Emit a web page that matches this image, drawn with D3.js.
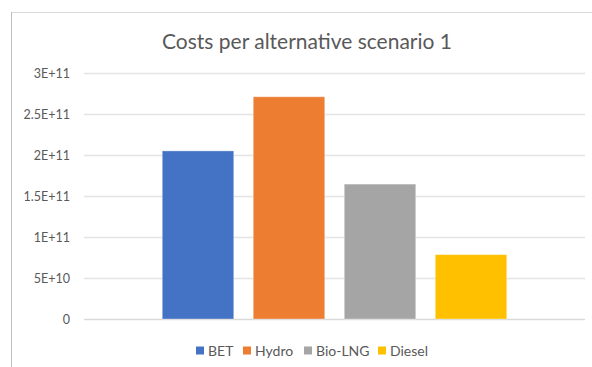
<!DOCTYPE html>
<html>
<head>
<meta charset="utf-8">
<script src="https://cdn.jsdelivr.net/npm/d3@7"></script>
<style>
  html, body { margin: 0; padding: 0; background: #fff; }
  svg { display: block; font-family: Lato, "Open Sans", "Liberation Sans", sans-serif; }
</style>
</head>
<body>
<svg id="chart" width="592" height="367"></svg>
<script>
// Chart data
const title = "Costs per alternative scenario 1";
const series = ["BET", "Hydro", "Bio-LNG", "Diesel"];
const values = [2.05e11, 2.71e11, 1.645e11, 0.785e11];
const colors = ["#4472C4", "#ED7D31", "#A5A5A5", "#FFC000"];
const yTicks = [0, 5e10, 1e11, 1.5e11, 2e11, 2.5e11, 3e11];
const yTickLabels = ["0", "5E+10", "1E+11", "1.5E+11", "2E+11", "2.5E+11", "3E+11"];

const svg = d3.select("#chart");
const W = 592, H = 367;

// Chart frame (top and left edges)
svg.append("line").attr("x1", 11.5).attr("x2", W).attr("y1", 12.5).attr("y2", 12.5)
  .attr("stroke", "#d9d9d9").attr("stroke-width", 1);
svg.append("line").attr("x1", 11.5).attr("x2", 11.5).attr("y1", 12).attr("y2", H)
  .attr("stroke", "#bfbfbf").attr("stroke-width", 1);

const plot = { left: 84, right: 585, top: 73, bottom: 319 };

const y = d3.scaleLinear().domain([0, 3e11]).range([plot.bottom, plot.top]);

// Gridlines
svg.append("g").selectAll("line").data(yTicks).join("line")
  .attr("x1", plot.left).attr("x2", plot.right)
  .attr("y1", d => Math.round(y(d)) + 0.5).attr("y2", d => Math.round(y(d)) + 0.5)
  .attr("stroke", d => d === 0 ? "#d9d9d9" : "#e4e4e4").attr("stroke-width", 1.3);

// Y-axis labels
const yAxis = d3.axisLeft(y).tickValues(yTicks)
  .tickFormat((d, i) => yTickLabels[i]).tickSize(0).tickPadding(0);
const gy = svg.append("g").attr("transform", `translate(${70},0)`).call(yAxis);
gy.select(".domain").remove();
gy.selectAll("text").attr("fill", "#595959").style("font-size", "12.5px")
  .style("font-family", "Lato, 'Open Sans', sans-serif");

// Bars: one category, four series centred in the plot
const cx = (plot.left + plot.right) / 2;
const step = 91, barW = 71.5;
const x = d3.scaleBand().domain(series)
  .range([cx - step * 2, cx + step * 2]).paddingInner((step - barW) / step).paddingOuter((step - barW) / step / 2);

svg.append("g").selectAll("rect").data(series).join("rect")
  .attr("x", d => x(d))
  .attr("width", x.bandwidth())
  .attr("y", (d, i) => y(values[i]))
  .attr("height", (d, i) => y(0) - y(values[i]))
  .attr("fill", (d, i) => colors[i])
  .attr("stroke", "#ffffff").attr("stroke-opacity", 0.35).attr("stroke-width", 1);

// Title
const t = svg.append("text").attr("x", 307).attr("y", 48.5)
  .attr("text-anchor", "middle").attr("fill", "#595959")
  .style("font-size", "20px").text(title);
const tw = t.node().getComputedTextLength();
t.style("font-size", (20 * 290 / tw).toFixed(2) + "px");

// Legend
const legendX = [196, 243, 304, 378];
const lg = svg.append("g").selectAll("g").data(series).join("g")
  .attr("transform", (d, i) => `translate(${legendX[i]},${346.5})`);
lg.append("rect").attr("width", 8).attr("height", 8).attr("fill", (d, i) => colors[i]);
lg.append("text").attr("x", 12).attr("y", 9).attr("fill", "#595959")
  .style("font-size", "14px").text(d => d);
</script>
</body>
</html>
